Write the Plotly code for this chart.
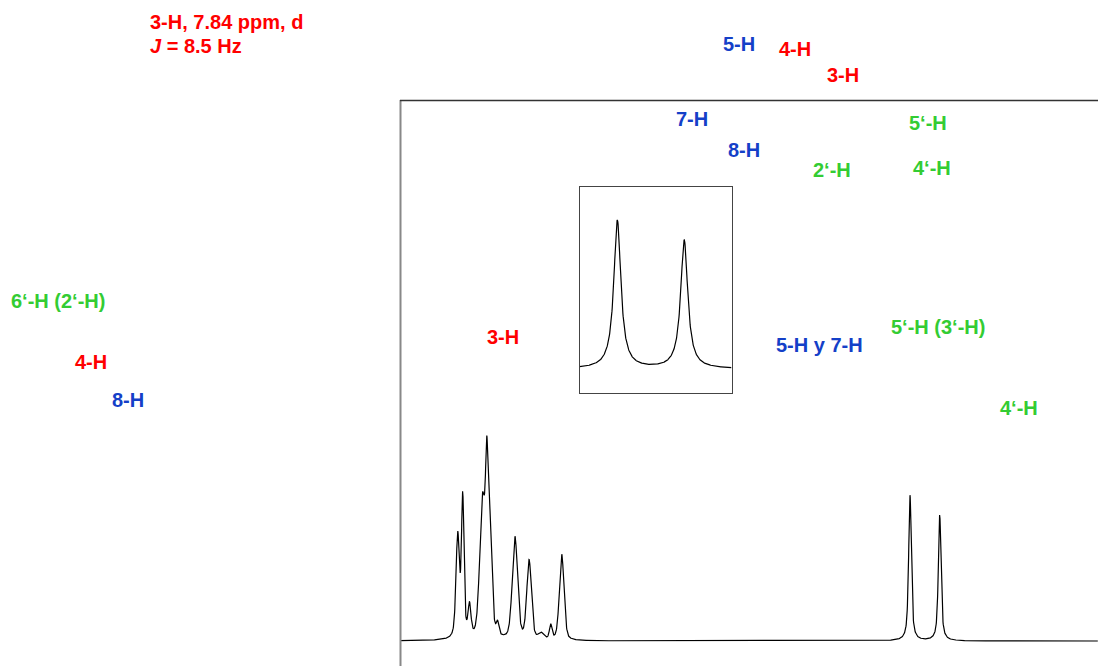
import numpy as np
import plotly.graph_objects as go

# ---- spectrum data (aromatic region, ppm) ----
spec_freq_mhz = 300.0
h3_shift = 7.84          # ppm
h3_j = 8.5               # Hz

# resolved signals: position (ppm), relative height, half-width (ppm), lorentzian fraction
peak_ppm = [7.9686, 7.9586, 7.9450, 7.9190, 7.9106, 7.9050, 7.8890,
            h3_shift + h3_j / 2 / spec_freq_mhz, h3_shift - h3_j / 2 / spec_freq_mhz,
            7.8020, 7.7826, 7.7606, 7.0640, 7.0046]
peak_height = [50, 68, 15, 66, 53.5, 56, 6, 50, 38.5, 3, 7, 42, 71, 61.5]
peak_hw = [0.004, 0.003, 0.0035, 0.0065, 0.003, 0.005, 0.003,
           0.0062, 0.0054, 0.006, 0.003, 0.0054, 0.0032, 0.0032]
peak_eta = [0.5, 0.5, 0.5, 0.3, 0.5, 0.4, 0.5, 0.35, 0.35, 0.5, 0.5, 0.35, 0.7, 0.7]

# expanded 3-H doublet
inset_height = [100, 86.5]
inset_hw = 0.0018

labels = ["3-H, 7.84 ppm, d", "<i>J</i> = 8.5 Hz", "5-H", "4-H", "3-H", "7-H", "8-H",
          "2‘-H", "5‘-H", "4‘-H", "6‘-H (2‘-H)", "4-H", "8-H", "3-H",
          "5-H y 7-H", "5‘-H (3‘-H)", "4‘-H"]
label_group = ["r", "r", "b", "r", "r", "b", "b", "g", "g", "g", "g", "r", "b", "r",
               "b", "g", "g"]

# ---- styling / placement ----
W, H = 1098, 666
COLORS = {"r": "#FF0000", "b": "#1440C8", "g": "#33CC33"}
label_xy = [(150, 22), (150, 46), (723, 44), (779, 49), (827, 75), (676, 119), (728, 150),
            (813, 170), (909, 123), (913, 168), (11, 301), (75, 362), (112, 400), (487, 337),
            (776, 345), (891, 327), (1000, 408)]


def pvoigt(x, x0, h, hw, eta):
    lor = 1.0 / (1.0 + ((x - x0) / hw) ** 2)
    gau = np.exp(-np.log(2) * ((x - x0) / hw) ** 2)
    return h * (eta * lor + (1 - eta) * gau)


ppm = np.arange(8.084, 6.688, -0.0004)
intensity = np.zeros_like(ppm)
for p, h, w, e in zip(peak_ppm, peak_height, peak_hw, peak_eta):
    intensity += pvoigt(ppm, p, h, w, e)

inset_ppm = np.linspace(7.8702, 7.8058, 600)
inset_pos = [h3_shift + h3_j / 2 / spec_freq_mhz, h3_shift - h3_j / 2 / spec_freq_mhz]
inset_int = np.zeros_like(inset_ppm)
for p, h in zip(inset_pos, inset_height):
    inset_int += pvoigt(inset_ppm, p, h, inset_hw, 1.0)

fig = go.Figure()
fig.add_trace(go.Scatter(x=ppm, y=intensity, mode="lines",
                         line=dict(color="black", width=1.2), hoverinfo="skip",
                         xaxis="x", yaxis="y", showlegend=False))
fig.add_trace(go.Scatter(x=inset_ppm, y=inset_int, mode="lines",
                         line=dict(color="black", width=1.2), hoverinfo="skip",
                         xaxis="x2", yaxis="y2", showlegend=False))

# main spectrum axes span the whole page (baseline 641 px, 2.05 px per unit)
px_per_ppm = 500.0
x_left = h3_shift + 522 / px_per_ppm
x_right = h3_shift - (W - 522) / px_per_ppm
y_scale = 2.05
fig.update_layout(
    xaxis=dict(domain=[0, 1], range=[x_left, x_right], visible=False),
    yaxis=dict(domain=[0, 1], range=[-(H - 641) / y_scale, 641 / y_scale], visible=False),
    xaxis2=dict(domain=[579.5 / W, 731.5 / W], range=[7.8702, 7.8058], anchor="y2",
                showline=True, mirror=True, linecolor="#444", linewidth=1,
                showticklabels=False, ticks="", showgrid=False, zeroline=False),
    yaxis2=dict(domain=[1 - 392.5 / H, 1 - 186.5 / H], range=[-16.0, 122.9], anchor="x2",
                showline=True, mirror=True, linecolor="#444", linewidth=1,
                showticklabels=False, ticks="", showgrid=False, zeroline=False),
)

# outer frame (left and top edges)
fig.add_shape(type="line", xref="paper", yref="paper", x0=400.5 / W, x1=400.5 / W,
              y0=1 - 100 / H, y1=-0.05, line=dict(color="#888", width=2))
fig.add_shape(type="line", xref="paper", yref="paper", x0=400 / W, x1=1.05,
              y0=1 - 100.5 / H, y1=1 - 100.5 / H, line=dict(color="#333", width=1.5))

for text, grp, (lx, ly) in zip(labels, label_group, label_xy):
    fig.add_annotation(x=(lx - 2) / W, y=1 - ly / H, xref="paper", yref="paper",
                       xanchor="left", yanchor="middle", showarrow=False,
                       text=f"<b>{text}</b>",
                       font=dict(family="Liberation Sans, Arial", size=20,
                                 color=COLORS[grp]))

fig.update_layout(width=W, height=H, margin=dict(l=0, r=0, t=0, b=0),
                  paper_bgcolor="white", plot_bgcolor="white")

fig.write_html("out.html")
